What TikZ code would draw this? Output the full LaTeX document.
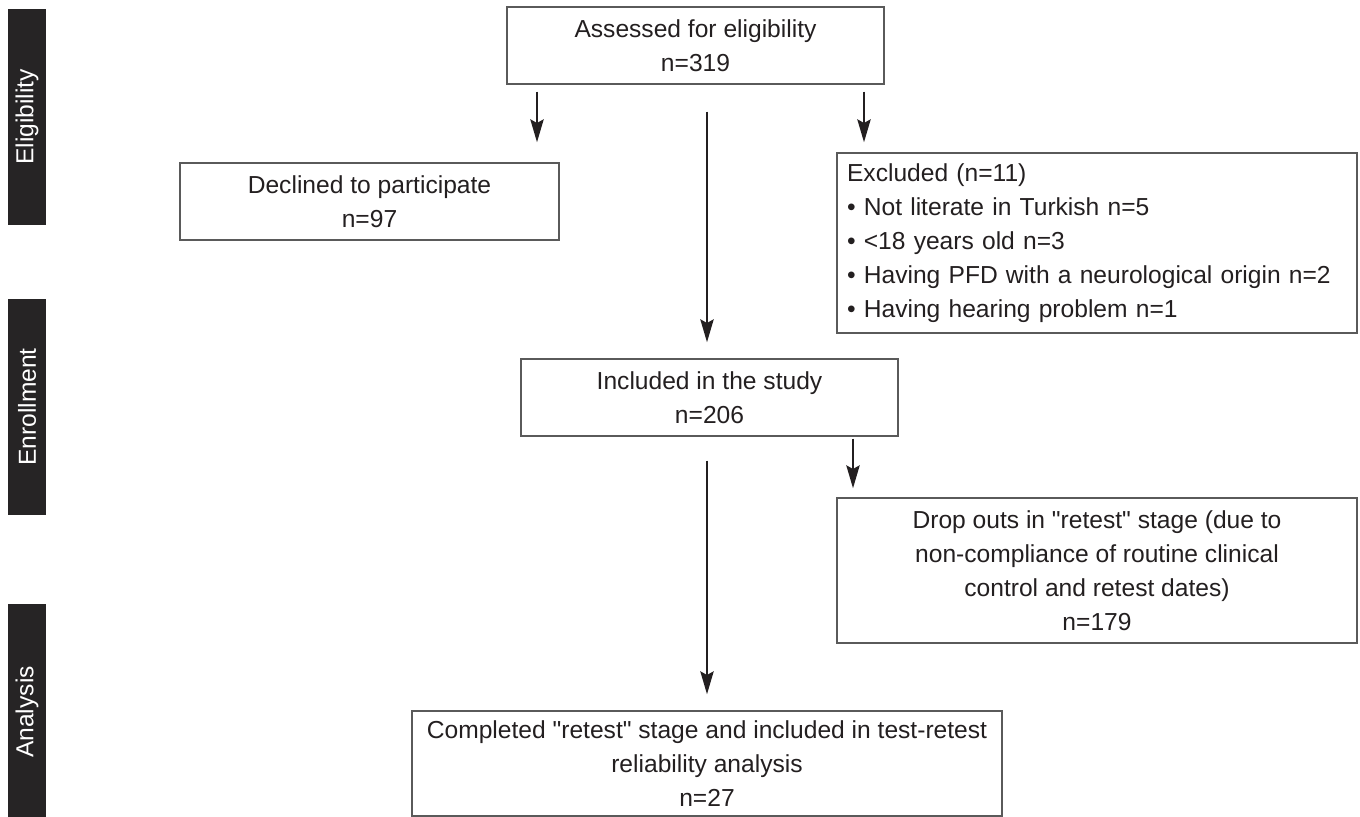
\documentclass[tikz,border=0pt]{standalone}
\usepackage{fontspec}
\setmainfont{Liberation Sans}[Ligatures=TeXOff]
\usetikzlibrary{arrows.meta,calc}
\definecolor{barcol}{RGB}{38,36,37}
\definecolor{boxcol}{RGB}{90,90,90}
\definecolor{inkcol}{RGB}{35,31,32}
\begin{document}
\begin{tikzpicture}[
 x=0.02cm,y=-0.02cm,
 every node/.style={font=\fontsize{14pt}{19.4pt}\selectfont,text=inkcol},
 box/.style={draw=boxcol,line width=0.8pt,align=center,inner sep=0pt,
  minimum height=1.54cm},
 phase/.style={fill=barcol,text=white,rotate=90,minimum height=0.76cm,
  minimum width=4.32cm,inner sep=0pt},
 arr/.style={line width=1.5pt,draw=inkcol,
  -{Stealth[length=13pt,width=7.5pt,inset=2pt]}}
]
 \useasboundingbox (0,0) rectangle (1360,817);

 % phase bars on the left
 \node[phase] (elig) at (27,117) {Eligibility};
 \node[phase] (enrol) at (27,407) {Enrollment};
 \node[phase] (anal) at (27,712) {Analysis};

 \node[box,minimum width=7.54cm] (assess) at (695.5,45.5)
  {Assessed for eligibility\\n=319};
 \node[box,minimum width=7.58cm] (declined) at (369.5,201.5)
  {Declined to participate\\n=97};
 \node[box,minimum width=10.4cm,minimum height=3.6cm,align=left,
  text width=10.0cm,inner xsep=0.2cm] (excluded) at (1097,243)
  {Excluded (n=11)\\
   \textbullet{} Not literate in Turkish n=5\\
   \textbullet{} <18 years old n=3\\
   \textbullet{} Having PFD with a neurological origin n=2\\
   \textbullet{} Having hearing problem n=1};
 \node[box,minimum width=7.54cm] (included) at (709.5,397.5)
  {Included in the study\\n=206};
 \node[box,minimum width=10.4cm,minimum height=2.9cm] (dropout) at (1097,570.5)
  {Drop outs in "retest" stage (due to\\
   non-compliance of routine clinical\\
   control and retest dates)\\
   n=179};
 \node[box,minimum width=11.8cm,minimum height=2.1cm] (completed) at (707,763.5)
  {Completed "retest" stage and included in test-retest\\
   reliability analysis\\
   n=27};

 % arrow columns
 \coordinate (cl) at (537,0);
 \coordinate (cr) at (864,0);
 \coordinate (cm) at (707,0);
 \coordinate (cd) at (853,0);

 \draw[arr,shorten <=0.14cm,shorten >=0.4cm] (cl |- assess.south) -- (cl |- declined.north);
 \draw[arr,shorten <=0.14cm,shorten >=0.2cm] (cr |- assess.south) -- (cr |- excluded.north);
 \draw[arr,shorten <=0.54cm,shorten >=0.32cm] (cm |- assess.south) -- (cm |- included.north);
 \draw[arr,shorten <=0.04cm,shorten >=0.18cm] (cd |- included.south) -- (cd |- dropout.north);
 \draw[arr,shorten <=0.48cm,shorten >=0.32cm] (cm |- included.south) -- (cm |- completed.north);
\end{tikzpicture}
\end{document}
